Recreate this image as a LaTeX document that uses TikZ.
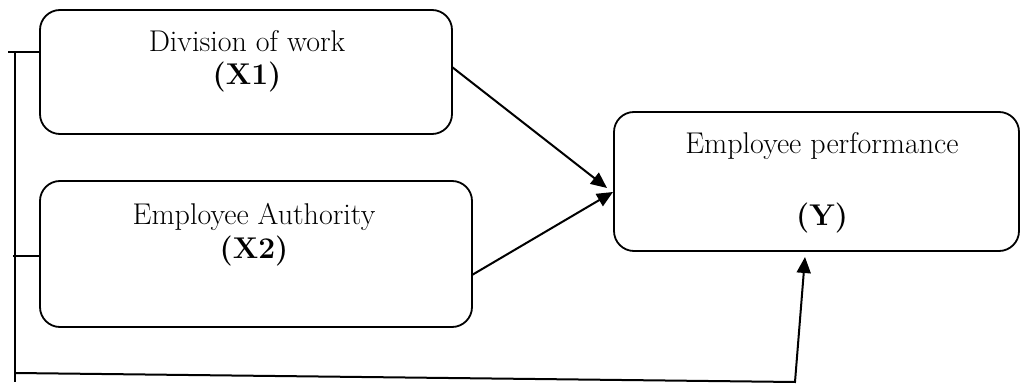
\documentclass[tikz,border=0pt]{standalone}
\usetikzlibrary{arrows.meta}
\begin{document}
\begin{tikzpicture}[x=1pt,y=-1pt,
  box/.style={draw,line width=1.8pt,rounded corners=20pt,inner sep=0pt},
  conn/.style={line width=2pt},
  arr/.style={conn,-{Triangle[length=16pt,width=14pt]}},
  lbl/.style={anchor=base,inner sep=0pt,font=\fontsize{30}{34}\selectfont},
  blbl/.style={lbl,font=\fontsize{30}{34}\selectfont\bfseries}]
\useasboundingbox (0,0) rectangle (1021,387);
% boxes
\node[box,minimum width=412pt,minimum height=124pt] (X1) at (246,72) {};
\node[box,minimum width=432pt,minimum height=146pt] (X2) at (256,254) {};
\node[box,minimum width=405pt,minimum height=139pt] (Y) at (816.5,181.5) {};
% texts
\node[lbl] (t1) at (247,52) {Division of work};
\node[blbl] (t1b) at (247,85) {(X1)};
\node[lbl] (t2) at (254,225) {Employee Authority};
\node[blbl] (t2b) at (254,259) {(X2)};
\node[lbl] (t3) at (822,154) {Employee performance};
\node[blbl] (t3b) at (822,226) {(Y)};
% connector points
\coordinate (a1) at (452,67);
\coordinate (a2) at (472,275);
\coordinate (e1) at (607,188);
\coordinate (e2) at (613,192);
\coordinate (bt) at (15,52);
\coordinate (bb) at (15,382);
\coordinate (k1) at (8,52);
\coordinate (k2) at (13,256);
\coordinate (c1) at (15,373);
\coordinate (c2) at (795,382);
\coordinate (c3) at (805,257);
% arrows
\draw[arr] (a1) -- (e1);
\draw[arr] (a2) -- (e2);
% bracket
\draw[conn] (bt) -- (bb);
\draw[conn] (k1) -- (X1.west |- k1);
\draw[conn] (k2) -- (X2.west |- k2);
\draw[arr] (c1) -- (c2) -- (c3);
\end{tikzpicture}
\end{document}
